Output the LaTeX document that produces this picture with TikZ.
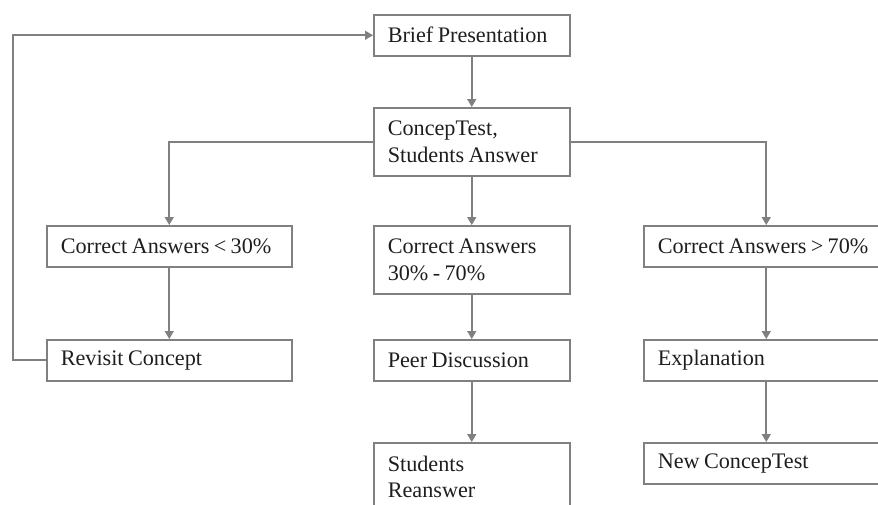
\documentclass[tikz,border=0pt]{standalone}
\usepackage{fontspec}
\setmainfont{Liberation Serif}
\usetikzlibrary{arrows.meta}
\definecolor{flowgray}{RGB}{128,128,128}
\definecolor{flowtext}{RGB}{30,30,30}
\tikzset{
  stage/.style={draw=flowgray, line width=1.5pt, rectangle, anchor=north west,
    inner xsep=14pt, inner ysep=4pt, align=left, text=flowtext,
    font=\fontsize{22.2}{26.7}\selectfont,
    execute at begin node={\spaceskip=4.4pt plus 1pt\relax},
    minimum height=41pt},
  narrow/.style={stage, text width=168pt},
  wide/.style={stage, text width=217pt},
  tall/.style={minimum height=68pt},
  flow/.style={draw=flowgray, line width=1.6pt, -{Triangle[width=9pt,length=8pt]}}
}
\begin{document}
\begin{tikzpicture}[x=1pt, y=-1pt]
\useasboundingbox (0,0) rectangle (878,504);
% presentation and test
\node[narrow] (brief) at (373,14) {Brief Presentation};
\node[narrow, tall] (ctest) at (373,107) {ConcepTest,\\Students Answer};

% outcomes
\node[wide] (low) at (46,225) {Correct Answers < 30\%};
\node[narrow, tall] (mid) at (373,225) {Correct Answers\\30\% - 70\%};
\node[wide] (high) at (643,225) {Correct Answers > 70\%};

\node[wide] (revisit) at (46,339) {Revisit Concept};
\node[narrow] (peer) at (373,339) {Peer Discussion};
\node[wide] (explain) at (643,339) {Explanation};

\node[narrow, tall] (reanswer) at (373,442) {Students\\Reanswer};
\node[wide] (newtest) at (643,442) {New ConcepTest};

% connectors
\draw[flow] (brief) -- (ctest);
\draw[flow] (ctest.west) -| (low.north);
\draw[flow] (ctest) -- (mid);
\draw[flow] (ctest.east) -| (high.north);
\draw[flow] (low) -- (revisit);
\draw[flow] (mid) -- (peer);
\draw[flow] (high) -- (explain);
\draw[flow] (peer) -- (reanswer);
\draw[flow] (explain) -- (newtest);
\draw[flow] (revisit.west) -- ++(-33,0) |- (brief.west);
\end{tikzpicture}
\end{document}
